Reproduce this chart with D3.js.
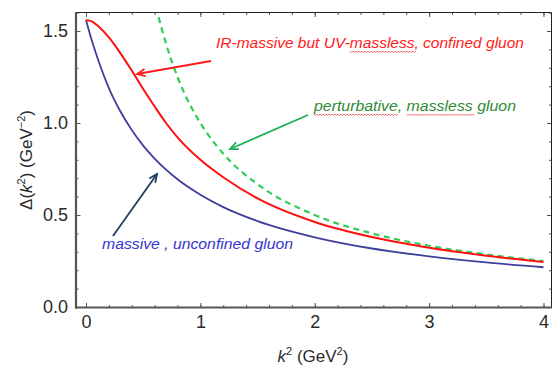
<!DOCTYPE html>
<html>
<head>
<meta charset="utf-8">
<script src="https://d3js.org/d3.v7.min.js"></script>
<style>
  body { margin: 0; background: #fff; }
  svg { display: block; }
</style>
</head>
<body>
<svg width="556" height="374"></svg>
<script>
// values
var kBlue = [0, 0.05, 0.1, 0.2, 0.3, 0.4, 0.5, 0.6, 0.8, 1.0, 1.2, 1.5, 2, 2.5, 3, 3.5, 4];
var massive = [1.56, 1.45, 1.355, 1.19, 1.064, 0.962, 0.877, 0.806, 0.694, 0.61, 0.543, 0.467, 0.379, 0.318, 0.275, 0.242, 0.216];

var kRed = [0, 0.05, 0.1, 0.2, 0.3, 0.4, 0.5, 0.6, 0.7, 0.8, 1.0, 1.2, 1.5, 2, 2.5, 3, 3.5, 4];
var confined = [1.56, 1.552, 1.53, 1.465, 1.38, 1.285, 1.185, 1.09, 1.0, 0.922, 0.80, 0.705, 0.59, 0.462, 0.38, 0.322, 0.279, 0.245];

var kGreen = [0.635, 0.7, 0.8, 0.9, 1.0, 1.2, 1.5, 2, 2.5, 3, 3.5, 4];
var perturbative = [1.575, 1.43, 1.25, 1.11, 1.0, 0.833, 0.667, 0.5, 0.4, 0.333, 0.286, 0.25];

var xTicks = [0, 1, 2, 3, 4];
var yTicks = [0, 0.5, 1.0, 1.5];

var svg = d3.select('svg');
var pLeft = 76, pRight = 551.5, pTop = 12.5, pBottom = 307.5;

var x = d3.scaleLinear().domain([-0.0875, 4.07]).range([pLeft, pRight]);
var y = d3.scaleLinear().domain([0, 1.6]).range([307, 12.6]);

var xMinor = d3.range(0, 4.01, 0.2).map(function (d) { return +d.toFixed(1) });
var yMinor = d3.range(0, 1.61, 0.1).map(function (d) { return +d.toFixed(1) });

// clip for the curves
svg.append('clipPath').attr('id', 'plot')
  .append('rect').attr('x', pLeft).attr('y', pTop).attr('width', pRight - pLeft).attr('height', pBottom - pTop);

// minor + major ticks, inward like Mathematica frames
function tickAxis(axis, tr, vals, size) {
  var g = svg.append('g').attr('transform', tr)
    .call(axis.tickValues(vals).tickSize(size).tickFormat(''));
  g.select('.domain').remove();
  g.selectAll('line').attr('stroke', '#555').attr('stroke-width', 1);
  return g;
}
tickAxis(d3.axisBottom(x), 'translate(0,' + pBottom + ')', xMinor, -2.5);
tickAxis(d3.axisBottom(x), 'translate(0,' + pBottom + ')', xTicks, -4.5);
tickAxis(d3.axisTop(x), 'translate(0,' + pTop + ')', xMinor, -2.5);
tickAxis(d3.axisTop(x), 'translate(0,' + pTop + ')', xTicks, -4.5);
tickAxis(d3.axisLeft(y), 'translate(' + pLeft + ',0)', yMinor, -2.5);
tickAxis(d3.axisLeft(y), 'translate(' + pLeft + ',0)', yTicks, -4.5);
tickAxis(d3.axisRight(y), 'translate(' + pRight + ',0)', yMinor, -2.5);
tickAxis(d3.axisRight(y), 'translate(' + pRight + ',0)', yTicks, -4.5);

// tick labels
var xLab = svg.append('g').attr('transform', 'translate(0,' + pBottom + ')')
  .call(d3.axisBottom(x).tickValues(xTicks).tickSize(0).tickPadding(8).tickFormat(d3.format('d')));
xLab.select('.domain').remove();
xLab.selectAll('text').attr('font-family', 'Liberation Sans, Arial, sans-serif')
  .attr('font-size', 18).attr('fill', '#2a2a2a');

var yLab = svg.append('g').attr('transform', 'translate(' + pLeft + ',0)')
  .call(d3.axisLeft(y).tickValues(yTicks).tickSize(0).tickPadding(8).tickFormat(d3.format('.1f')));
yLab.select('.domain').remove();
yLab.selectAll('text').attr('font-family', 'Liberation Sans, Arial, sans-serif')
  .attr('font-size', 18).attr('fill', '#2a2a2a');

// frame
svg.append('line').attr('x1', pLeft).attr('x2', pRight).attr('y1', pTop).attr('y2', pTop)
  .attr('stroke', '#222').attr('stroke-width', 1);
svg.append('line').attr('x1', pRight).attr('x2', pRight).attr('y1', pTop).attr('y2', pBottom)
  .attr('stroke', '#222').attr('stroke-width', 1);
svg.append('line').attr('x1', pLeft).attr('x2', pLeft).attr('y1', pTop - 0.5).attr('y2', pBottom + 1)
  .attr('stroke', '#555').attr('stroke-width', 2.2);
svg.append('line').attr('x1', pLeft - 1).attr('x2', pRight + 0.5).attr('y1', pBottom).attr('y2', pBottom)
  .attr('stroke', '#555').attr('stroke-width', 2.2);

// curves
var line = d3.line().curve(d3.curveMonotoneX)
  .x(function (d) { return x(d[0]) })
  .y(function (d) { return y(d[1]) });

var curves = svg.append('g').attr('clip-path', 'url(#plot)');
curves.append('path').datum(d3.zip(kBlue, massive)).attr('d', line)
  .attr('fill', 'none').attr('stroke', '#3f3f9c').attr('stroke-width', 1.8);
curves.append('path').datum(d3.zip(kGreen, perturbative)).attr('d', line)
  .attr('fill', 'none').attr('stroke', '#33cc55').attr('stroke-width', 2.2)
  .attr('stroke-dasharray', '6,4.5');
curves.append('path').datum(d3.zip(kRed, confined)).attr('d', line)
  .attr('fill', 'none').attr('stroke', '#ff1010').attr('stroke-width', 2);

// annotations
function arrow(x1, y1, x2, y2, col) {
  var a = Math.atan2(y2 - y1, x2 - x1), h = 9, w = 0.42;
  svg.append('line').attr('x1', x1).attr('y1', y1).attr('x2', x2).attr('y2', y2)
    .attr('stroke', col).attr('stroke-width', 1.8);
  svg.append('path')
    .attr('d', 'M' + (x2 - h * Math.cos(a - w)) + ',' + (y2 - h * Math.sin(a - w)) +
      'L' + x2 + ',' + y2 +
      'L' + (x2 - h * Math.cos(a + w)) + ',' + (y2 - h * Math.sin(a + w)))
    .attr('fill', 'none').attr('stroke', col).attr('stroke-width', 1.8);
}

function note(str, x0, y0, len, col, squiggles) {
  var t = svg.append('text').attr('x', x0).attr('y', y0)
    .attr('font-family', 'Liberation Sans, Arial, sans-serif')
    .attr('font-style', 'italic').attr('font-size', 15.5)
    .attr('fill', col).attr('textLength', len).attr('lengthAdjust', 'spacingAndGlyphs')
    .text(str);
  var node = t.node();
  (squiggles || []).forEach(function (w) {
    var i = str.indexOf(w);
    var xs = node.getStartPositionOfChar(i).x;
    var xe = node.getEndPositionOfChar(i + w.length - 1).x;
    var p = 'M' + xs + ',' + (y0 + 3);
    for (var xx = xs, k = 0; xx < xe; xx += 1.5, k++) {
      p += 'L' + (xx + 1.5) + ',' + (y0 + (k % 2 ? 3 : 4.5));
    }
    svg.append('path').attr('d', p).attr('fill', 'none')
      .attr('stroke', '#ee3030').attr('stroke-width', 0.7);
  });
}

arrow(211, 61, 137, 74, '#ff1a1a');
note('IR-massive but UV-massless, confined gluon', 216, 48, 308, '#ff2020', ['massless']);

arrow(308, 115, 230, 149, '#1fb05a');
note('perturbative, massless gluon', 314, 111, 202, '#2f8a35', ['perturbative', 'massless']);

arrow(113, 236, 157, 174, '#1f3c62');
note('massive , unconfined gluon', 102, 249, 191, '#3434d0');

// axis titles
var yt = svg.append('text')
  .attr('transform', 'translate(32,160) rotate(-90)')
  .attr('text-anchor', 'middle')
  .attr('font-family', 'Liberation Sans, Arial, sans-serif')
  .attr('font-size', 17).attr('fill', '#2a2a2a');
yt.append('tspan').text('\u0394(');
yt.append('tspan').attr('font-style', 'italic').text('k');
yt.append('tspan').attr('font-size', 11).attr('dy', -7).text('2');
yt.append('tspan').attr('dy', 7).text(') (GeV');
yt.append('tspan').attr('font-size', 11).attr('dy', -7).text('\u22122');
yt.append('tspan').attr('dy', 7).text(')');

var xt = svg.append('text')
  .attr('x', 313).attr('y', 362)
  .attr('text-anchor', 'middle')
  .attr('font-family', 'Liberation Sans, Arial, sans-serif')
  .attr('font-size', 17).attr('fill', '#2a2a2a');
xt.append('tspan').attr('font-style', 'italic').text('k');
xt.append('tspan').attr('font-size', 11).attr('dy', -7).text('2');
xt.append('tspan').attr('dy', 7).text(' (GeV');
xt.append('tspan').attr('font-size', 11).attr('dy', -7).text('2');
xt.append('tspan').attr('dy', 7).text(')');
</script>
</body>
</html>
